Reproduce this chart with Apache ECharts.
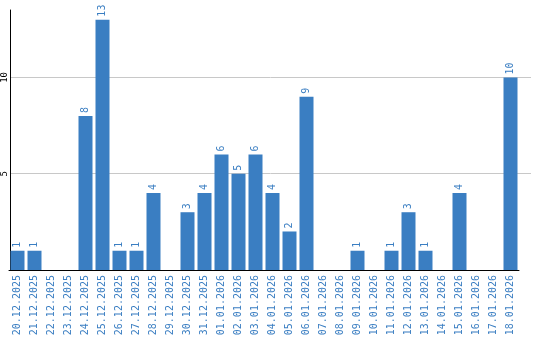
<!DOCTYPE html>
<html><head><meta charset="utf-8">
<script src="https://cdn.jsdelivr.net/npm/echarts@6/dist/echarts.min.js"></script>
<style>html,body{margin:0;padding:0;background:#fff}#c{width:540px;height:340px}</style>
</head><body><div id="c"></div>
<script>
const categories = ["20.12.2025","21.12.2025","22.12.2025","23.12.2025","24.12.2025","25.12.2025","26.12.2025","27.12.2025","28.12.2025","29.12.2025","30.12.2025","31.12.2025","01.01.2026","02.01.2026","03.01.2026","04.01.2026","05.01.2026","06.01.2026","07.01.2026","08.01.2026","09.01.2026","10.01.2026","11.01.2026","12.01.2026","13.01.2026","14.01.2026","15.01.2026","16.01.2026","17.01.2026","18.01.2026"];
const values = [1,1,0,0,8,13,1,1,4,0,3,4,6,5,6,4,2,9,0,0,1,0,1,3,1,0,4,0,0,10];
const yTicks = [5,10];
const barColor = '#3a7ec2';
const chart = echarts.init(document.getElementById('c'));
chart.setOption({
  animation:false,
  grid:[
    {left:9, top:10, width:510, bottom:70},
    {left:10, top:10, width:521, bottom:70}
  ],
  xAxis:[
    {type:'category', gridIndex:0, data:categories,
     axisLine:{lineStyle:{color:'#000',width:1}}, axisTick:{show:false},
     axisLabel:{rotate:90, interval:0, margin:5, color:barColor, fontFamily:'DejaVu Sans Mono', fontSize:10}},
    {type:'value', gridIndex:1, show:false, min:0, max:1}
  ],
  yAxis:[
    {type:'value', gridIndex:0, min:0, max:13.5, interval:5,
     axisLine:{show:false}, axisTick:{show:false},
     splitLine:{show:false},
     axisLabel:{show:false}},
    {type:'value', gridIndex:1, min:0, max:13.5, interval:5, position:'left',
     axisLine:{show:true, lineStyle:{color:'#000',width:1}}, axisTick:{show:false},
     splitLine:{show:true, showMinLine:false, showMaxLine:false, lineStyle:{color:'#c8c8c8',width:1}},
     axisLabel:{rotate:90, margin:1, color:'#000', fontFamily:'DejaVu Sans Mono', fontSize:9,
       formatter:v=>yTicks.indexOf(v)>=0?String(v):''}}
  ],
  series:[{
    type:'bar', xAxisIndex:0, yAxisIndex:0, data:values, barWidth:14,
    itemStyle:{color:barColor},
    label:{show:true, position:'top', rotate:90, align:'left', verticalAlign:'middle', distance:3,
      color:barColor, fontFamily:'DejaVu Sans Mono', fontSize:10,
      formatter:p=>p.value>0?String(p.value):''}
  }]
});
</script></body></html>
